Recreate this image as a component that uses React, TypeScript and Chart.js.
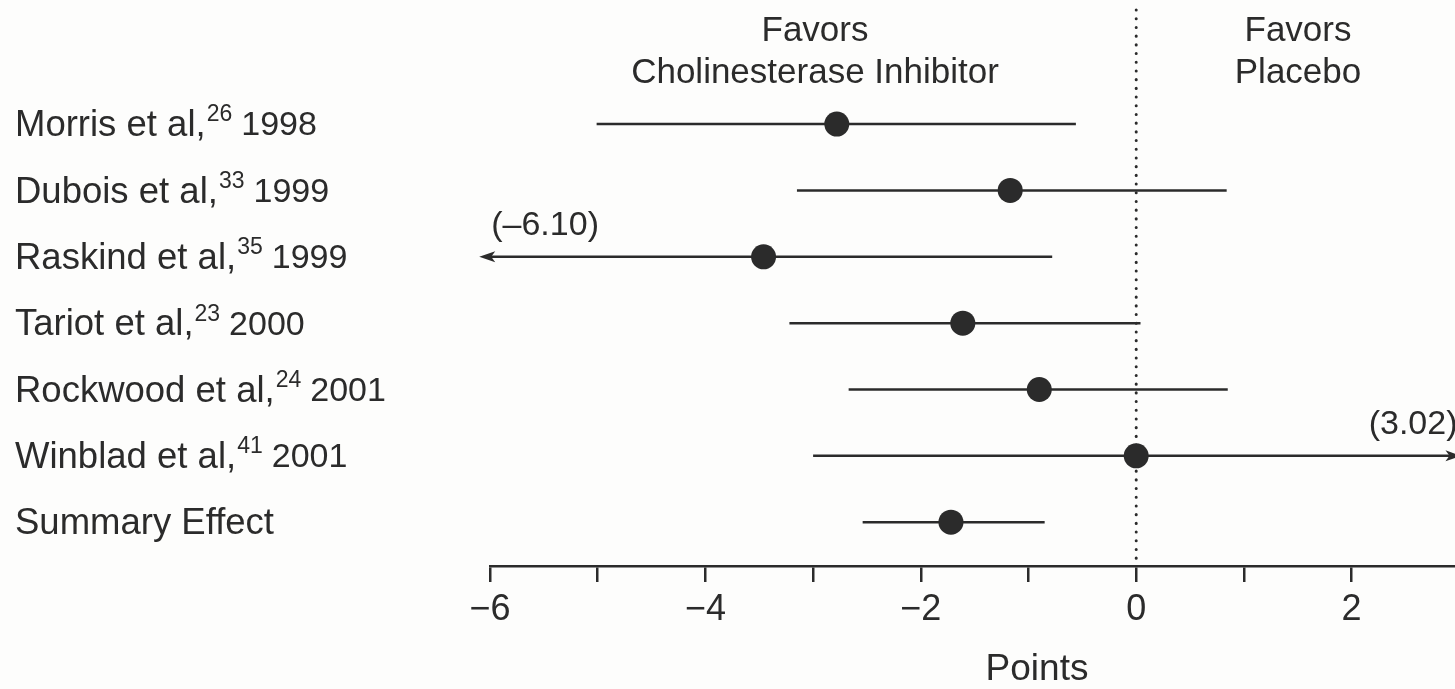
import React, { useEffect, useRef } from "react";
import { Chart, registerables } from "chart.js";

Chart.register(...registerables);

const studies = ["Morris et al,", "Dubois et al,", "Raskind et al,", "Tariot et al,", "Rockwood et al,", "Winblad et al,", "Summary Effect"];
const refs = ["26", "33", "35", "23", "24", "41", ""];
const years = ["1998", "1999", "1999", "2000", "2001", "2001", ""];
const estimates = [-2.78, -1.17, -3.46, -1.61, -0.90, 0.0, -1.72];
const lower = [-5.01, -3.15, -6.10, -3.22, -2.67, -3.0, -2.54];
const upper = [-0.56, 0.84, -0.78, 0.04, 0.85, 3.02, -0.85];
const xMin = -6;
const xMax = 2.96;
const headerLeft = ["Favors", "Cholinesterase Inhibitor"];
const headerRight = ["Favors", "Placebo"];
const axisTitle = "Points";

const INK = "#2b2b2b";
const FONT = "'Liberation Sans', Arial, Helvetica, sans-serif";

const fmt = (v: number) => (v < 0 ? "\u2013" + Math.abs(v).toFixed(2) : v.toFixed(2));

const forestPlugin = {
  id: "forest",
  beforeDatasetsDraw(chart: any) {
    const { ctx, chartArea, scales } = chart;
    const xs = scales.x;
    const ys = scales.y;
    ctx.save();
    // dotted zero line
    const x0 = xs.getPixelForValue(0);
    ctx.strokeStyle = INK;
    ctx.lineWidth = 3;
    ctx.lineCap = "round";
    ctx.setLineDash([0.1, 8.6]);
    ctx.beginPath();
    ctx.moveTo(x0, chartArea.top + 2);
    ctx.lineTo(x0, chartArea.bottom);
    ctx.stroke();
    ctx.setLineDash([]);
    ctx.lineCap = "butt";
    // whiskers
    ctx.lineWidth = 2.5;
    for (let i = 0; i < estimates.length; i++) {
      const y = ys.getPixelForValue(i);
      const xl = xs.getPixelForValue(lower[i]);
      const xh = xs.getPixelForValue(upper[i]);
      ctx.strokeStyle = INK;
      ctx.beginPath();
      ctx.moveTo(lower[i] < xMin ? xl + 10 : xl, y);
      ctx.lineTo(upper[i] > xMax ? xh - 10 : xh, y);
      ctx.stroke();
      ctx.fillStyle = INK;
      if (lower[i] < xMin) {
        ctx.beginPath();
        ctx.moveTo(xl, y);
        ctx.lineTo(xl + 16, y - 5.5);
        ctx.lineTo(xl + 12, y);
        ctx.lineTo(xl + 16, y + 5.5);
        ctx.closePath();
        ctx.fill();
        ctx.font = `34px ${FONT}`;
        ctx.textAlign = "left";
        ctx.textBaseline = "middle";
        ctx.fillText(`(${fmt(lower[i])})`, xl + 12, y - 31);
      }
      if (upper[i] > xMax) {
        ctx.beginPath();
        ctx.moveTo(xh, y);
        ctx.lineTo(xh - 16, y - 5.5);
        ctx.lineTo(xh - 12, y);
        ctx.lineTo(xh - 16, y + 5.5);
        ctx.closePath();
        ctx.fill();
        ctx.font = `34px ${FONT}`;
        ctx.textAlign = "right";
        ctx.textBaseline = "middle";
        ctx.fillText(`(${fmt(upper[i])})`, xh - 4, y - 31);
      }
    }
    ctx.restore();
  },
  afterDraw(chart: any) {
    const { ctx, chartArea, scales } = chart;
    const ys = scales.y;
    ctx.save();
    ctx.fillStyle = INK;
    ctx.textBaseline = "middle";
    // study labels with superscripts
    for (let i = 0; i < studies.length; i++) {
      const y = ys.getPixelForValue(i) + 2;
      let x = 15;
      ctx.textAlign = "left";
      ctx.font = `36.5px ${FONT}`;
      ctx.fillText(studies[i], x, y);
      x += ctx.measureText(studies[i]).width + 1;
      if (refs[i]) {
        ctx.font = `23px ${FONT}`;
        ctx.fillText(refs[i], x, y - 11);
        x += ctx.measureText(refs[i]).width + 9;
      }
      if (years[i]) {
        ctx.font = `34px ${FONT}`;
        ctx.fillText(years[i], x, y);
      }
    }
    // headers
    ctx.font = `35px ${FONT}`;
    ctx.textAlign = "center";
    ctx.fillText(headerLeft[0], chartArea.left + 325, 31);
    ctx.fillText(headerLeft[1], chartArea.left + 325, 73);
    ctx.fillText(headerRight[0], chartArea.left + 808, 31);
    ctx.fillText(headerRight[1], chartArea.left + 808, 73);
    // axis title
    ctx.font = `37px ${FONT}`;
    ctx.fillText(axisTitle, chartArea.left + 547, 670);
    ctx.restore();
  },
};

export default function App() {
  const ref = useRef<HTMLCanvasElement | null>(null);
  useEffect(() => {
    if (!ref.current) return;
    const chart = new Chart(ref.current, {
      type: "scatter",
      data: {
        datasets: [
          {
            data: estimates.map((v, i) => ({ x: v, y: i })),
            backgroundColor: INK,
            borderColor: INK,
            pointRadius: 12.5,
            pointHoverRadius: 12.5,
            borderWidth: 0,
            clip: false as any,
          },
        ],
      },
      options: {
        animation: false,
        responsive: true,
        maintainAspectRatio: false,
        events: [],
        layout: { autoPadding: false, padding: { left: 490, top: 8, right: 0, bottom: 0 } },
        plugins: { legend: { display: false }, tooltip: { enabled: false }, title: { display: false } },
        scales: {
          x: {
            type: "linear",
            min: xMin,
            max: xMax,
            afterFit: (s: any) => {
              s.height = 123;
            },
            border: { display: true, color: INK, width: 2.5 },
            grid: { drawOnChartArea: false, drawTicks: true, tickLength: 16, color: INK, lineWidth: 2.5 },
            ticks: {
              stepSize: 1,
              includeBounds: false,
              padding: 6,
              color: INK,
              font: { family: FONT, size: 36 },
              maxRotation: 0,
              autoSkip: false,
              callback: (v: any) => {
                const n = Number(v);
                if (Math.abs(n % 2) > 1e-9) return "";
                return n < 0 ? "\u2212" + Math.abs(n) : String(n);
              },
            },
          },
          y: {
            type: "linear",
            min: -1.75,
            max: 6.66,
            reverse: true,
            display: false,
          },
        },
      },
      plugins: [forestPlugin],
    });
    return () => chart.destroy();
  }, []);
  return (
    <div style={{ position: "fixed", left: 0, top: 0, width: 1455, height: 689, background: "#fdfdfc" }}>
      <canvas ref={ref} />
    </div>
  );
}
